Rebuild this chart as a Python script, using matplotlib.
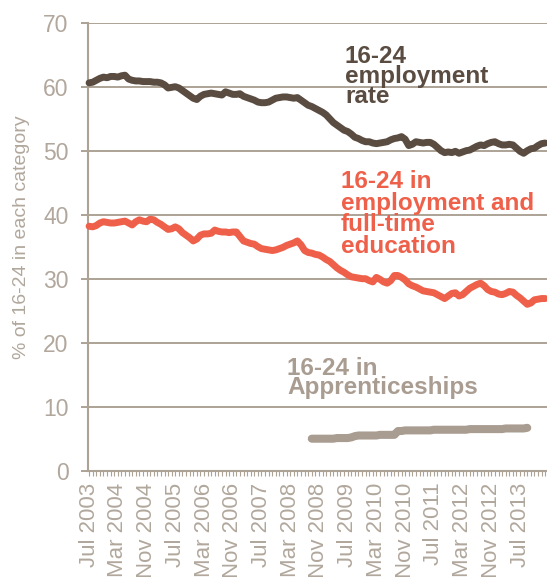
import numpy as np
import matplotlib.pyplot as plt
from matplotlib.ticker import FixedLocator, MultipleLocator

# monthly series, Jul 2003 onwards (% of 16-24 year olds)
employment = [
    60.6, 60.7, 61.0, 61.3, 61.5, 61.4, 61.6, 61.6, 61.5, 61.7, 61.8, 61.2,
    61.0, 60.9, 60.9, 60.8, 60.8, 60.8, 60.7, 60.7, 60.6, 60.3, 59.8, 59.9,
    60.0, 59.8, 59.4, 59.0, 58.6, 58.2, 58.0, 58.5, 58.8, 58.9, 59.0, 58.9,
    58.8, 58.7, 59.2, 59.0, 58.8, 58.8, 58.9, 58.5, 58.3, 58.1, 57.9, 57.6,
    57.5, 57.5, 57.6, 57.9, 58.2, 58.3, 58.4, 58.4, 58.3, 58.2, 58.3, 57.9,
    57.5, 57.1, 56.9, 56.6, 56.3, 56.0, 55.6, 55.0, 54.4, 54.0, 53.6, 53.2,
    53.0, 52.6, 52.1, 51.9, 51.6, 51.4, 51.4, 51.2, 51.1, 51.2, 51.3, 51.4,
    51.7, 51.9, 52.0, 52.2, 51.8, 50.8, 51.0, 51.4, 51.3, 51.2, 51.3, 51.3,
    51.0, 50.5, 50.0, 49.7, 49.8, 49.7, 49.9, 49.6, 49.8, 50.0, 50.1, 50.4,
    50.7, 50.9, 50.8, 51.1, 51.3, 51.4, 51.1, 50.9, 50.9, 51.0, 50.9, 50.4,
    49.9, 49.6, 50.0, 50.3, 50.4, 50.8, 51.1, 51.2,
]

employment_fte = [
    38.2, 38.1, 38.3, 38.7, 38.9, 38.8, 38.7, 38.7, 38.8, 38.9, 39.0, 38.7,
    38.4, 38.9, 39.2, 39.0, 38.9, 39.3, 39.2, 38.8, 38.5, 38.1, 37.7, 37.8,
    38.1, 37.8, 37.2, 36.8, 36.4, 35.9, 36.2, 36.8, 37.0, 37.0, 37.1, 37.6,
    37.4, 37.3, 37.3, 37.2, 37.3, 37.3, 36.6, 35.9, 35.7, 35.5, 35.4, 35.0,
    34.7, 34.6, 34.5, 34.4, 34.5, 34.7, 34.9, 35.2, 35.4, 35.6, 35.9, 35.3,
    34.4, 34.1, 34.0, 33.8, 33.7, 33.4, 33.0, 32.7, 32.2, 31.7, 31.3, 31.0,
    30.6, 30.3, 30.2, 30.1, 30.0, 30.0, 29.7, 29.5, 30.2, 29.9, 29.5, 29.3,
    29.7, 30.5, 30.5, 30.2, 29.8, 29.2, 28.9, 28.7, 28.4, 28.1, 28.0, 27.9,
    27.8, 27.5, 27.2, 26.9, 27.3, 27.7, 27.8, 27.3, 27.5, 28.0, 28.5, 28.8,
    29.1, 29.3, 28.9, 28.3, 28.0, 27.9, 27.6, 27.5, 27.7, 28.0, 27.9, 27.4,
    27.0, 26.5, 26.0, 26.2, 26.7, 26.8, 26.9, 26.9,
]

# apprenticeships start in Sep 2008 (month 62 after Jul 2003)
appr_start = 62
apprentices = [
    5.0, 5.0, 5.0, 5.0, 5.0, 5.0, 5.0, 5.1, 5.1, 5.1, 5.1, 5.2,
    5.4, 5.5, 5.5, 5.5, 5.5, 5.5, 5.5, 5.6, 5.6, 5.6, 5.6, 5.6,
    6.2, 6.2, 6.3, 6.3, 6.3, 6.3, 6.3, 6.3, 6.3, 6.3,
    6.4, 6.4, 6.4, 6.4, 6.4, 6.4, 6.4, 6.4, 6.4, 6.4,
    6.5, 6.5, 6.5, 6.5, 6.5, 6.5, 6.5, 6.5, 6.5, 6.5,
    6.6, 6.6, 6.6, 6.6, 6.6, 6.6, 6.7,
]

tick_labels = ["Jul 2003", "Mar 2004", "Nov 2004", "Jul 2005", "Mar 2006",
               "Nov 2006", "Jul 2007", "Mar 2008", "Nov 2008", "Jul 2009",
               "Mar 2010", "Nov 2010", "Jul 2011", "Mar 2012", "Nov 2012",
               "Jul 2013"]

dark = "#5a4c41"
red = "#ef604a"
tan = "#a99c91"
axis_col = "#aca296"
text_col = "#b1a79c"

plt.rcParams['font.family'] = ['Liberation Sans', 'DejaVu Sans']

W, H = 547, 577
fig = plt.figure(figsize=(W / 100, H / 100), dpi=100)
ax = fig.add_axes([88 / W, 1 - 470.7 / H, 1 - 88 / W, (470.7 - 22.7) / H])

months = np.arange(len(employment))
appr_months = np.arange(appr_start, appr_start + len(apprentices))

ax.plot(months, employment, color=dark, lw=5, solid_capstyle='round',
        solid_joinstyle='round', clip_on=False, zorder=3)
ax.plot(months, employment_fte, color=red, lw=5, solid_capstyle='round',
        solid_joinstyle='round', clip_on=False, zorder=3)
ax.plot(appr_months, apprentices, color=tan, lw=5.8, solid_capstyle='round',
        solid_joinstyle='round', clip_on=False, zorder=3)

ax.set_xlim(-0.3, 127.5)
ax.set_ylim(0, 70)

ax.yaxis.set_major_locator(MultipleLocator(10))
ax.yaxis.grid(True, color=axis_col, lw=1.4)
ax.set_axisbelow(True)

ax.xaxis.set_major_locator(FixedLocator(np.arange(len(tick_labels)) * 8))
ax.xaxis.set_minor_locator(MultipleLocator(1))
ax.set_xticklabels(tick_labels, rotation=90, va='top', ha='center')

for s in ['top', 'right']:
    ax.spines[s].set_visible(False)
for s in ['left', 'bottom']:
    ax.spines[s].set_color(axis_col)
    ax.spines[s].set_linewidth(1.5)

ax.tick_params(axis='y', length=5, width=1.4, color=axis_col,
               labelcolor=text_col, labelsize=16.5, pad=9)
ax.tick_params(axis='x', which='both', length=3.5, width=0.8, color=axis_col,
               labelcolor=text_col, labelsize=16, pad=5)

ax.set_ylabel("% of 16-24 in each category", color=text_col, fontsize=14)
ax.yaxis.set_label_coords(-0.127, 0.522)

fig.text(345 / W, 1 - 45 / H, "16-24\nemployment\nrate", color=dark,
         fontsize=17.5, fontweight='bold', va='top', ha='left', linespacing=0.82)
fig.text(341 / W, 1 - 170 / H, "16-24 in\nemployment and\nfull-time\neducation",
         color=red, fontsize=17.5, fontweight='bold', va='top', ha='left',
         linespacing=0.92)
fig.text(287 / W, 1 - 357 / H, "16-24 in\nApprenticeships", color=tan,
         fontsize=17.5, fontweight='bold', va='top', ha='left', linespacing=0.8)

fig.savefig("out.png", dpi=100)
